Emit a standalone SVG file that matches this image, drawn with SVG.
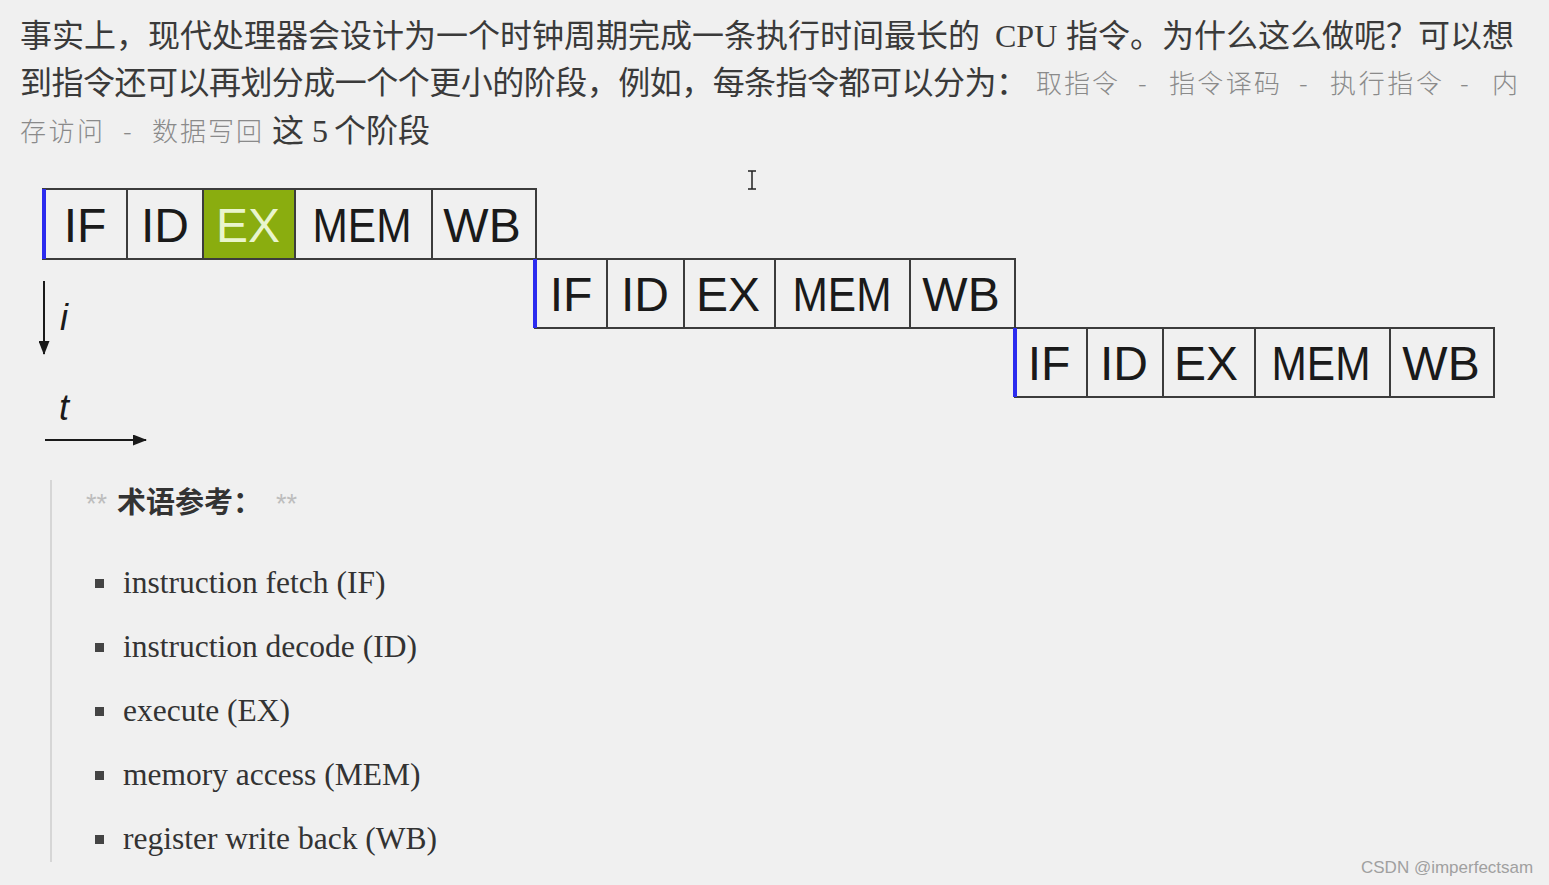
<svg xmlns="http://www.w3.org/2000/svg" width="1549" height="885" viewBox="0 0 1549 885">
<defs>
<style>
.bg{fill:#f0f0f0}
.para{font-family:"Noto Sans CJK SC","Liberation Sans",sans-serif;font-size:32px;fill:#3a3a3a}
.paraSerif{font-family:"Liberation Serif","Noto Sans CJK SC",serif;font-size:32px;fill:#3a3a3a}
.gray{font-family:"Noto Sans CJK SC","Liberation Sans",sans-serif;font-size:26px;fill:#8a8a8a;font-weight:300}
.cell{fill:none;stroke:#3c3c3c;stroke-width:2}
.green{fill:#8aad0f;stroke:#3c3c3c;stroke-width:2}
.blue{stroke:#2b2bef;stroke-width:4;fill:none}
.stage{font-family:"Liberation Sans",Arial,sans-serif;font-size:48px;fill:#1a1a1a;text-anchor:middle}
.stageLight{fill:#e9f5cc}
.axis{stroke:#1a1a1a;stroke-width:2;fill:none}
.axisLabel{font-family:"Liberation Sans",Arial,sans-serif;font-size:36px;font-style:italic;fill:#1a1a1a}
.stars{font-family:"Liberation Sans",Arial,sans-serif;font-size:27px;fill:#bdbdbd}
.head{font-family:"Noto Sans CJK SC","Liberation Sans",sans-serif;font-size:29px;font-weight:bold;fill:#333}
.item{font-family:"Liberation Serif","Times New Roman",serif;font-size:31.5px;fill:#333}
.bullet{fill:#444}
.mark{font-family:"Liberation Sans",Arial,sans-serif;font-size:17px;fill:#a0a0a0}
</style>
<marker id="arrow" markerWidth="14" markerHeight="11" refX="13" refY="5.5" orient="auto" markerUnits="userSpaceOnUse" viewBox="0 0 14 11">
<path d="M0,0 L14,5.5 L0,11 Z" fill="#1a1a1a"/>
</marker>
</defs>
<rect class="bg" x="0" y="0" width="1549" height="885"/>

<g id="paragraph">
<text class="para" x="20" y="47">事实上，现代处理器会设计为一个时钟周期完成一条执行时间最长的</text>
<text class="paraSerif" x="995" y="47">CPU</text>
<text class="para" x="1066" y="47">指令。为什么这么做呢？可以想</text>
<text class="para" x="20" y="94" textLength="1008">到指令还可以再划分成一个个更小的阶段，例如，每条指令都可以分为：</text>
<text class="gray" x="1036" y="93" textLength="82">取指令</text>
<text class="gray" x="1138" y="93">-</text>
<text class="gray" x="1169" y="93" textLength="111">指令译码</text>
<text class="gray" x="1299" y="93">-</text>
<text class="gray" x="1330" y="93" textLength="112">执行指令</text>
<text class="gray" x="1460" y="93">-</text>
<text class="gray" x="1492" y="93">内</text>
<text class="gray" x="20" y="141" textLength="83">存访问</text>
<text class="gray" x="123" y="141">-</text>
<text class="gray" x="152" y="141" textLength="110">数据写回</text>
<text class="para" x="272" y="142">这</text>
<text class="paraSerif" x="312" y="142">5</text>
<text class="para" x="334" y="142">个阶段</text>
</g>

<g id="cursor">
<path d="M748 171 H756 M752 171 V189 M748 189 H756" stroke="#222" stroke-width="1.5" fill="none"/>
</g>

<g id="instr1">
<rect class="cell" x="43" y="189" width="84" height="70"/>
<rect class="cell" x="127" y="189" width="76" height="70"/>
<rect class="green" x="203" y="189" width="92" height="70"/>
<rect class="cell" x="295" y="189" width="137" height="70"/>
<rect class="cell" x="432" y="189" width="104" height="70"/>
<line class="blue" x1="44" y1="189" x2="44" y2="259"/>
<text class="stage" x="85" y="242">IF</text>
<text class="stage" x="165" y="242">ID</text>
<text class="stage stageLight" x="248" y="242">EX</text>
<text class="stage" x="362" y="242" textLength="99" lengthAdjust="spacingAndGlyphs">MEM</text>
<text class="stage" x="482" y="242">WB</text>
</g>

<g id="instr2">
<rect class="cell" x="535" y="259" width="72" height="69"/>
<rect class="cell" x="607" y="259" width="77" height="69"/>
<rect class="cell" x="684" y="259" width="91" height="69"/>
<rect class="cell" x="775" y="259" width="135" height="69"/>
<rect class="cell" x="910" y="259" width="105" height="69"/>
<line class="blue" x1="535" y1="259" x2="535" y2="328"/>
<text class="stage" x="571" y="311">IF</text>
<text class="stage" x="645" y="311">ID</text>
<text class="stage" x="728" y="311">EX</text>
<text class="stage" x="842" y="311" textLength="99" lengthAdjust="spacingAndGlyphs">MEM</text>
<text class="stage" x="961" y="311">WB</text>
</g>

<g id="instr3">
<rect class="cell" x="1015" y="328" width="72" height="69"/>
<rect class="cell" x="1087" y="328" width="76" height="69"/>
<rect class="cell" x="1163" y="328" width="92" height="69"/>
<rect class="cell" x="1255" y="328" width="135" height="69"/>
<rect class="cell" x="1390" y="328" width="104" height="69"/>
<line class="blue" x1="1015" y1="328" x2="1015" y2="397"/>
<text class="stage" x="1049" y="380">IF</text>
<text class="stage" x="1124" y="380">ID</text>
<text class="stage" x="1206" y="380">EX</text>
<text class="stage" x="1321" y="380" textLength="99" lengthAdjust="spacingAndGlyphs">MEM</text>
<text class="stage" x="1441" y="380">WB</text>
</g>

<g id="connectors">
<line class="axis" x1="44" y1="281" x2="44" y2="354" marker-end="url(#arrow)"/>
<line class="axis" x1="45" y1="440" x2="146" y2="440" marker-end="url(#arrow)"/>
</g>

<g id="axis-labels">
<text class="axisLabel" x="60" y="330">i</text>
<text class="axisLabel" x="59" y="420">t</text>
</g>

<g id="terms">
<line x1="51" y1="480" x2="51" y2="862" stroke="#d6d6d6" stroke-width="2"/>
<text class="stars" x="86" y="513">**</text>
<text class="head" x="117" y="513">术语参考：</text>
<text class="stars" x="276" y="513">**</text>
<rect class="bullet" x="95" y="579" width="9" height="9"/>
<text class="item" x="123" y="593">instruction fetch (IF)</text>
<rect class="bullet" x="95" y="643" width="9" height="9"/>
<text class="item" x="123" y="657">instruction decode (ID)</text>
<rect class="bullet" x="95" y="707" width="9" height="9"/>
<text class="item" x="123" y="721">execute (EX)</text>
<rect class="bullet" x="95" y="771" width="9" height="9"/>
<text class="item" x="123" y="785">memory access (MEM)</text>
<rect class="bullet" x="95" y="835" width="9" height="9"/>
<text class="item" x="123" y="849">register write back (WB)</text>
</g>

<g id="watermark">
<text class="mark" x="1361" y="873">CSDN @imperfectsam</text>
</g>
</svg>
